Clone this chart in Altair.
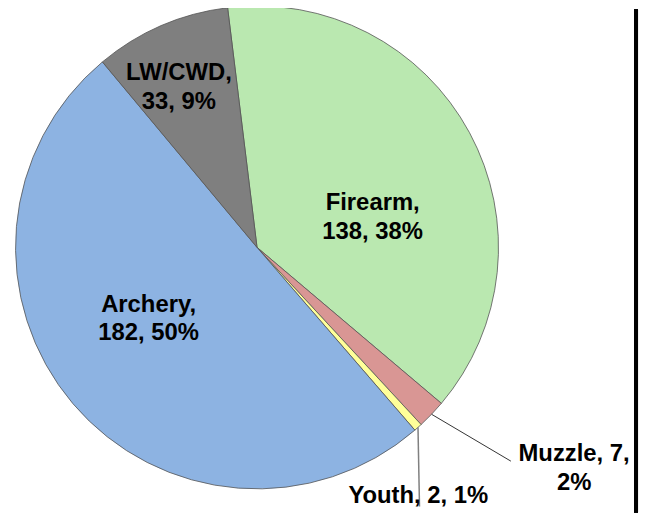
import math
import altair as alt
import pandas as pd

# ---- data ----
categories = ["Firearm", "Muzzle", "Youth", "Archery", "LW/CWD"]
counts = [138, 7, 2, 182, 33]
colors = ["#BAE8B0", "#D99694", "#FFFF99", "#8DB3E2", "#7F7F7F"]
label_texts = ["Firearm,\n138, 38%", "Muzzle, 7,\n2%", "Youth, 2, 1%",
               "Archery,\n182, 50%", "LW/CWD,\n33, 9%"]

# ---- layout ----
W, H = 636, 506
CX, CY = 250.6, 239.3
R = 243
START_DEG = -7.0
# label placement: angle shift from slice mid-angle (deg), distance from centre (px)
label_shift = [7.6, -10.6, 8.8, 12.3, -0.75]
label_radius = [124.5, 381, 298, 123.6, 192]
# leader lines (only for outside labels): end point in polar (deg, px)
leader_end = {"Muzzle": (130.1, 334), "Youth": (147.9, 307.7)}

total = sum(counts)
cum = 0
mids = []
for v in counts:
    mids.append(START_DEG + 360 * (cum + v / 2) / total)
    cum += v

pie_df = pd.DataFrame({"category": categories, "count": counts,
                       "idx": list(range(len(categories)))})

lab_df = pd.DataFrame({
    "label": label_texts,
    "lt": [math.radians(m + s) for m, s in zip(mids, label_shift)],
    "lr": label_radius,
})


def polar(deg, r):
    a = math.radians(deg)
    return CX + r * math.sin(a), CY - r * math.cos(a)


rows = []
for i, c in enumerate(categories):
    if c in leader_end:
        x1, y1 = polar(mids[i], R)
        x2, y2 = polar(*leader_end[c])
        rows.append({"category": c, "x": x1, "y": y1, "x2": x2, "y2": y2})
lead_df = pd.DataFrame(rows)

start = math.radians(START_DEG)
pie = alt.Chart(pie_df).mark_arc(
    radius=R, stroke="#555555", strokeWidth=0.8
).encode(
    theta=alt.Theta("count:Q", stack=True,
                    scale=alt.Scale(range=[start, start + 2 * math.pi])),
    color=alt.Color("category:N",
                    scale=alt.Scale(domain=categories, range=colors),
                    legend=None),
    order=alt.Order("idx:Q"),
    x=alt.value(CX),
    y=alt.value(CY),
)

muzzle_line = alt.Chart(lead_df[lead_df.category == "Muzzle"]).mark_rule(
    color="#333333", strokeWidth=1
).encode(
    x=alt.X("x:Q", scale=None), y=alt.Y("y:Q", scale=None),
    x2="x2:Q", y2="y2:Q",
)
youth_line = alt.Chart(lead_df[lead_df.category == "Youth"]).mark_rule(
    color="#808080", strokeWidth=1.5
).encode(
    x=alt.X("x:Q", scale=None), y=alt.Y("y:Q", scale=None),
    x2="x2:Q", y2="y2:Q",
)

labels = alt.Chart(lab_df).mark_text(
    font="Liberation Sans", fontSize=24, fontWeight="bold", color="black",
    align="center", baseline="middle", lineBreak="\n", lineHeight=28.5,
).encode(
    text="label:N",
    theta=alt.Theta("lt:Q", scale=None, stack=None),
    radius=alt.Radius("lr:Q", scale=None),
    x=alt.value(CX),
    y=alt.value(CY),
)

bar = alt.Chart(pie_df).mark_rule(color="black", strokeWidth=4).encode(
    x=alt.value(632), y=alt.value(0), y2=alt.value(H)
)

chart = alt.layer(pie, muzzle_line, youth_line, labels, bar).properties(
    width=W, height=H, autosize=alt.AutoSizeParams(type="none"), padding=0
).configure_view(stroke=None)

chart.save("out.html", embed_options={"renderer": "svg", "actions": False})
